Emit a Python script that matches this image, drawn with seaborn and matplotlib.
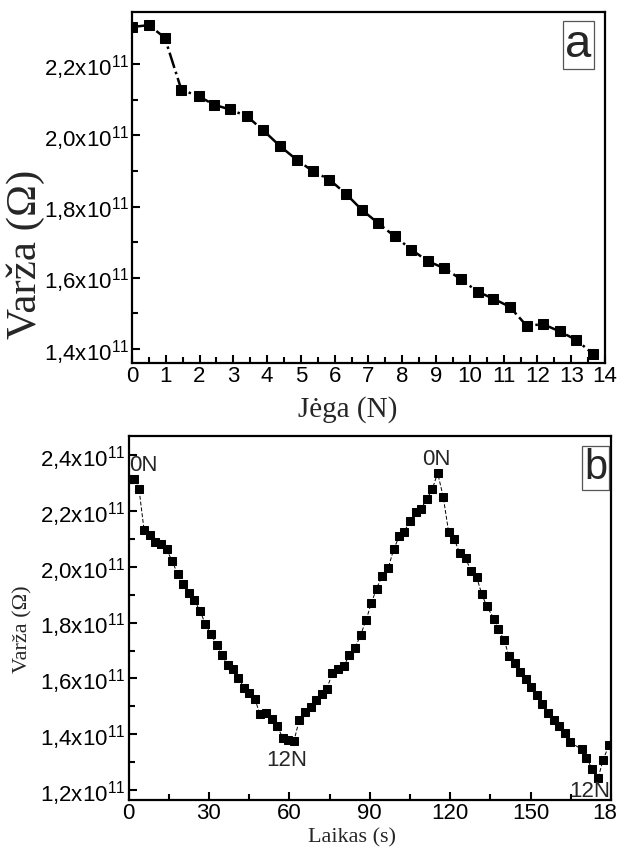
import numpy as np
import pandas as pd
import matplotlib
matplotlib.use("Agg")
import matplotlib.pyplot as plt
import seaborn as sns
from matplotlib.ticker import MultipleLocator, FuncFormatter
from matplotlib.transforms import Bbox, TransformedBbox

# (a) varža priklausomai nuo jėgos
jega = [0, 0.5, 0.97, 1.46, 1.97, 2.44, 2.9, 3.4, 3.89, 4.38, 4.87, 5.36, 5.84, 6.33,
        6.8, 7.29, 7.78, 8.27, 8.76, 9.24, 9.73, 10.24, 10.7, 11.18, 11.68, 12.17,
        12.66, 13.15, 13.64]
varza_a = [2.305, 2.31, 2.275, 2.129, 2.110, 2.086, 2.073, 2.054, 2.014, 1.970, 1.932,
           1.899, 1.876, 1.836, 1.791, 1.753, 1.716, 1.679, 1.646, 1.627, 1.596, 1.560,
           1.541, 1.518, 1.465, 1.469, 1.449, 1.425, 1.386]

# (b) varža priklausomai nuo laiko
laikas = [0, 2.05, 3.9, 5.8, 7.9, 10.0, 12.1, 14.2, 16.3, 18.3, 20.4, 22.4, 24.5, 26.7,
          28.6, 30.8, 32.9, 34.9, 37.0, 38.9, 40.9, 43.1, 44.9, 47.2, 49.0, 51.3, 53.4,
          55.5, 57.5, 59.6, 61.7, 63.7, 65.8, 67.9, 69.9, 72.0, 73.9, 76.0, 78.2, 80.3,
          82.3, 84.5, 86.6, 88.6, 90.6, 92.5, 94.6, 96.9, 98.9, 101.0, 102.8, 105.0,
          107.1, 109.1, 111.2, 113.3, 115.3, 117.4, 119.4, 121.5, 123.6, 125.7, 127.7,
          129.8, 131.7, 133.6, 136.3, 137.9, 140.1, 141.9, 144.1, 146.0, 148.2, 150.3,
          152.4, 154.4, 156.5, 158.6, 160.5, 162.7, 164.6, 169.0, 170.8, 172.9, 175.2,
          177.0, 179.2]
varza_b = [2.314, 2.314, 2.280, 2.132, 2.114, 2.090, 2.081, 2.063, 2.020, 1.975, 1.937,
           1.905, 1.880, 1.842, 1.796, 1.758, 1.720, 1.684, 1.647, 1.633, 1.603, 1.567,
           1.549, 1.525, 1.471, 1.477, 1.456, 1.429, 1.387, 1.379, 1.376, 1.451, 1.480,
           1.499, 1.523, 1.543, 1.561, 1.618, 1.633, 1.644, 1.683, 1.710, 1.756, 1.809,
           1.871, 1.922, 1.967, 1.997, 2.063, 2.110, 2.126, 2.164, 2.196, 2.208, 2.242,
           2.278, 2.337, 2.250, 2.125, 2.099, 2.048, 2.033, 1.985, 1.965, 1.904, 1.859,
           1.814, 1.776, 1.738, 1.680, 1.656, 1.624, 1.597, 1.570, 1.539, 1.507, 1.477,
           1.450, 1.429, 1.405, 1.372, 1.346, 1.316, 1.276, 1.244, 1.308, 1.360]

# anotacijos (b)
anot_tekstai = ["0N", "12N", "0N", "12N"]
anot_x = [0.4, 59.1, 114.7, 171.9]
anot_y = [2.365, 1.306, 2.385, 1.196]
anot_ha = ["left", "center", "center", "center"]

sns.set_style("ticks")
plt.rcParams["font.family"] = ["Liberation Sans", "DejaVu Sans"]
plt.rcParams["mathtext.default"] = "regular"

df_a = pd.DataFrame({"Jega": jega, "Varza": np.array(varza_a) * 1e11})
df_b = pd.DataFrame({"Laikas": laikas, "Varza": np.array(varza_b) * 1e11})


def sci_fmt(v, pos):
    s = f"{v / 1e11:.1f}".replace(".", ",")
    return s + r"x10$^{11}$"


def stilius(ax):
    for sp in ax.spines.values():
        sp.set_linewidth(1.6)
        sp.set_color("black")
    ax.tick_params(which="both", direction="in", top=False, right=False,
                   width=1.5, colors="black", labelsize=16, pad=2)
    ax.tick_params(which="major", length=6)
    ax.tick_params(which="minor", length=4)
    ax.yaxis.set_major_formatter(FuncFormatter(sci_fmt))
    ax.yaxis.set_major_locator(MultipleLocator(0.2e11))
    ax.yaxis.set_minor_locator(MultipleLocator(0.1e11))


fig = plt.figure(figsize=(6.3, 8.52), dpi=100)
ax1 = fig.add_axes([0.2095, 0.5739, 0.7508, 0.412])
ax2 = fig.add_axes([0.204, 0.061, 0.766, 0.4272])

# (a)
sns.lineplot(data=df_a, x="Jega", y="Varza", ax=ax1, color="black", estimator=None,
             linestyle="-.", linewidth=1.8, marker="s", markersize=6.5,
             markeredgecolor="black", markerfacecolor="black")
ax1.set_xlim(0, 14)
ax1.set_ylim(1.36e11, 2.347e11)
stilius(ax1)
ax1.xaxis.set_major_locator(MultipleLocator(1))
ax1.xaxis.set_minor_locator(MultipleLocator(0.5))
ax1.set_xlabel("Jėga (N)", family="Liberation Serif", fontsize=21)
ax1.set_ylabel("Varža (Ω)", family="Liberation Serif", fontsize=31)
ax1.xaxis.set_label_coords(0.455, -0.093)
ax1.yaxis.set_label_coords(-0.183, 0.31)
ax1.text(0.943, 0.906, "a", transform=ax1.transAxes, fontsize=34, ha="center",
         va="center", bbox=dict(boxstyle="square,pad=0.05", fc="white",
                                ec="#555555", lw=0.9))

# (b)
sns.lineplot(data=df_b, x="Laikas", y="Varza", ax=ax2, color="black", estimator=None,
             linestyle=(0, (4, 2)), linewidth=0.7, marker="s", markersize=5.2,
             markeredgecolor="black", markerfacecolor="black")
ax2.set_xlim(0, 180)
ax2.set_ylim(1.164e11, 2.469e11)
stilius(ax2)
ax2.xaxis.set_major_locator(MultipleLocator(30))
ax2.xaxis.set_minor_locator(MultipleLocator(15))
ax2.set_xlabel("Laikas (s)", family="Liberation Serif", fontsize=16)
ax2.set_ylabel("Varža (Ω)", family="Liberation Serif", fontsize=16)
ax2.xaxis.set_label_coords(0.463, -0.078)
ax2.yaxis.set_label_coords(-0.2, 0.47)
for t, x, y, ha in zip(anot_tekstai, anot_x, anot_y, anot_ha):
    ax2.text(x, y * 1e11, t, fontsize=16, ha=ha, va="center")
ax2.text(0.968, 0.912, "b", transform=ax2.transAxes, fontsize=30, ha="center",
         va="center", bbox=dict(boxstyle="square,pad=0.05", fc="white",
                                ec="#555555", lw=0.9))

# paskutinė x žymė apkirpta ties paveikslo kraštu, kaip originale
fig.canvas.draw()
kirpimas = TransformedBbox(Bbox([[0, 0], [617 / 630, 1]]), fig.transFigure)
for lbl in ax2.get_xticklabels():
    lbl.set_clip_box(kirpimas)
    lbl.set_clip_on(True)

fig.savefig("out.png", dpi=100)
